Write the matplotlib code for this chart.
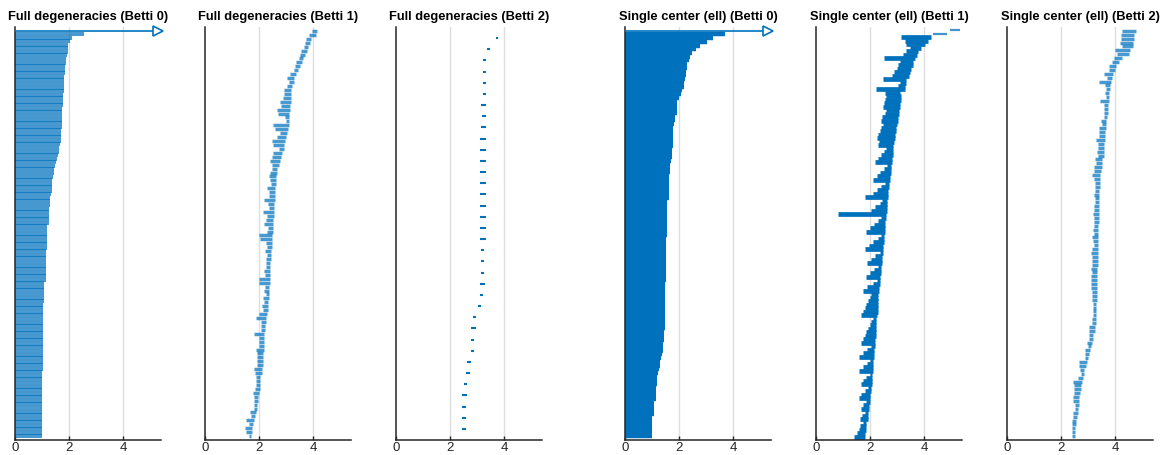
import numpy as np
import matplotlib
matplotlib.use("Agg")
import matplotlib.pyplot as plt

plt.rcParams['font.family'] = ['Liberation Sans', 'DejaVu Sans']

BLUE = '#0072BD'

titles = ['Full degeneracies (Betti 0)', 'Full degeneracies (Betti 1)',
          'Full degeneracies (Betti 2)', 'Single center (ell) (Betti 0)',
          'Single center (ell) (Betti 1)', 'Single center (ell) (Betti 2)']
xticks = [0, 2, 4]

# bars listed top to bottom, np.inf = never dies
p1_death = [np.inf, 2.55, 2.09, 2.02, 1.96, 1.95, 1.95, 1.91, 1.90, 1.89, 1.85, 1.84, 1.84,
            1.83, 1.83, 1.80, 1.80, 1.80, 1.79, 1.79, 1.79, 1.76, 1.75, 1.75, 1.75, 1.74,
            1.74, 1.74, 1.70, 1.70, 1.69, 1.69, 1.65, 1.64, 1.63, 1.59, 1.54, 1.53, 1.48,
            1.43, 1.43, 1.42, 1.38, 1.38, 1.37, 1.37, 1.32, 1.31, 1.31, 1.30, 1.26, 1.26,
            1.26, 1.25, 1.25, 1.20, 1.20, 1.20, 1.20, 1.19, 1.19, 1.19, 1.15, 1.15, 1.15,
            1.15, 1.15, 1.14, 1.14, 1.14, 1.14, 1.09, 1.09, 1.09, 1.09, 1.08, 1.08, 1.04,
            1.04, 1.04, 1.04, 1.04, 1.04, 1.04, 1.04, 1.04, 1.04, 1.03, 1.03, 1.03, 1.03,
            1.03, 1.03, 1.03, 1.03, 1.03, 0.99, 0.99, 0.99, 0.99, 0.99, 0.99, 0.99, 0.99,
            0.99, 0.99, 0.99, 0.99, 0.99, 0.99, 0.99, 0.99, 0.99, 0.99, 0.99]

p2_birth = [3.96, 3.84, 3.75, 3.71, 3.65, 3.55, 3.53, 3.47, 3.38, 3.34, 3.28, 3.16, 3.03,
            3.09, 3.03, 2.91, 2.92, 2.90, 2.78, 2.80, 2.68, 2.70, 2.97, 2.98, 2.53, 2.60,
            2.76, 2.66, 2.47, 2.53, 2.72, 2.53, 2.47, 2.41, 2.47, 2.47, 2.39, 2.35, 2.40,
            2.43, 2.30, 2.38, 2.35, 2.20, 2.32, 2.36, 2.15, 2.30, 2.25, 2.20, 2.33, 2.28,
            2.00, 2.05, 2.25, 2.30, 2.22, 2.31, 2.27, 2.26, 2.24, 2.20, 2.22, 1.98, 1.99,
            2.21, 2.20, 2.24, 2.14, 2.18, 2.12, 2.15, 1.98, 1.90, 2.07, 2.08, 2.06, 1.83,
            2.00, 2.01, 1.99, 1.87, 1.93, 1.94, 1.92, 1.93, 1.83, 1.85, 1.90, 1.88, 1.87,
            1.86, 1.78, 1.82, 1.80, 1.81, 1.80, 1.68, 1.70, 1.53, 1.62, 1.48, 1.50, 1.62]
p2_death = [4.14, 4.09, 3.93, 3.88, 3.80, 3.78, 3.71, 3.63, 3.57, 3.50, 3.43, 3.38, 3.30,
            3.28, 3.22, 3.19, 3.18, 3.18, 3.17, 3.16, 3.15, 3.12, 3.12, 3.10, 3.09, 3.06,
            3.03, 3.01, 2.97, 2.94, 2.91, 2.86, 2.81, 2.76, 2.72, 2.68, 2.66, 2.63, 2.62,
            2.61, 2.60, 2.60, 2.59, 2.58, 2.57, 2.56, 2.55, 2.54, 2.53, 2.52, 2.51, 2.50,
            2.49, 2.48, 2.47, 2.46, 2.45, 2.44, 2.43, 2.42, 2.42, 2.41, 2.40, 2.40, 2.39,
            2.38, 2.37, 2.36, 2.35, 2.34, 2.33, 2.32, 2.31, 2.24, 2.24, 2.23, 2.22, 2.20,
            2.20, 2.19, 2.18, 2.17, 2.16, 2.15, 2.14, 2.13, 2.11, 2.10, 2.05, 2.04, 2.03,
            2.02, 1.99, 1.96, 1.95, 1.94, 1.93, 1.87, 1.86, 1.83, 1.77, 1.75, 1.74, 1.70]

p3_birth = [3.69, 3.37, 3.21, 3.21, 3.21, 3.21, 3.15, 3.17, 3.16, 3.10, 3.10, 3.10, 3.10,
            3.10, 3.10, 3.10, 3.10, 3.10, 3.10, 3.16, 3.16, 3.16, 3.11, 3.11, 3.05, 2.84,
            2.77, 2.77, 2.77, 2.61, 2.58, 2.51, 2.44, 2.45, 2.45, 2.45]
p3_death = [3.79, 3.48, 3.33, 3.33, 3.33, 3.33, 3.33, 3.33, 3.33, 3.34, 3.34, 3.34, 3.34,
            3.34, 3.34, 3.34, 3.34, 3.34, 3.34, 3.27, 3.27, 3.27, 3.28, 3.22, 3.16, 2.96,
            2.96, 2.90, 2.90, 2.79, 2.74, 2.64, 2.64, 2.58, 2.58, 2.58]

p4_death = [np.inf, 3.69, 3.25, 3.04, 2.77, 2.64, 2.46, 2.40, 2.36, 2.30, 2.28, 2.27, 2.26,
            2.22, 2.20, 2.18, 2.12, 2.08, 2.00, 1.94, 1.93, 1.93, 1.92, 1.86, 1.84, 1.83,
            1.79, 1.78, 1.78, 1.78, 1.77, 1.77, 1.73, 1.72, 1.72, 1.71, 1.66, 1.65, 1.65,
            1.64, 1.62, 1.62, 1.62, 1.61, 1.61, 1.61, 1.57, 1.57, 1.57, 1.57, 1.56, 1.56,
            1.56, 1.56, 1.56, 1.56, 1.52, 1.52, 1.52, 1.52, 1.52, 1.52, 1.52, 1.52, 1.52,
            1.51, 1.51, 1.51, 1.47, 1.47, 1.47, 1.47, 1.47, 1.47, 1.47, 1.47, 1.47, 1.47,
            1.47, 1.47, 1.47, 1.46, 1.46, 1.46, 1.42, 1.41, 1.40, 1.36, 1.34, 1.30, 1.28,
            1.27, 1.22, 1.20, 1.20, 1.19, 1.15, 1.14, 1.14, 1.13, 1.08, 1.07, 1.07, 1.06,
            1.01, 1.01, 1.01, 1.01, 1.01, 1.01]

p5_birth = [4.95, 4.33, 3.16, 3.28, 3.34, 3.47, 3.34, 3.22, 2.50, 3.10, 3.05, 2.98, 2.90,
            2.80, 2.46, 3.10, 3.05, 2.23, 2.54, 2.60, 2.55, 2.50, 2.48, 2.60, 2.55, 2.45,
            2.42, 2.48, 2.40, 2.35, 2.30, 2.25, 2.33, 2.28, 2.60, 2.50, 2.40, 2.30, 2.20,
            2.62, 2.50, 2.38, 2.25, 2.10, 2.55, 2.40, 2.25, 2.10, 1.80, 2.45, 2.35, 2.20,
            2.05, 0.82, 2.42, 2.30, 2.15, 2.00, 1.85, 2.40, 2.28, 2.12, 1.95, 1.80, 2.35,
            2.20, 2.05, 1.90, 2.30, 2.15, 2.00, 1.85, 2.25, 2.10, 1.90, 1.73, 2.04, 1.98,
            1.92, 1.86, 1.80, 1.73, 1.67, 2.10, 2.04, 1.98, 1.92, 1.86, 1.80, 1.73, 1.67,
            2.04, 1.90, 1.75, 1.60, 2.00, 1.88, 1.75, 1.60, 1.98, 1.85, 1.72, 1.65, 1.92,
            1.80, 1.66, 1.60, 1.86, 1.75, 1.65, 1.80, 1.70, 1.64, 1.72, 1.62, 1.58, 1.50,
            1.42]
p5_death = [5.32, 4.83, 4.27, 4.15, 4.03, 3.90, 3.78, 3.72, 3.65, 3.60, 3.58, 3.52, 3.48,
            3.44, 3.34, 3.33, 3.31, 3.28, 3.12, 3.15, 3.14, 3.10, 3.09, 3.08, 3.06, 3.04,
            3.02, 2.98, 2.96, 2.95, 2.93, 2.91, 2.88, 2.86, 2.85, 2.84, 2.83, 2.82, 2.80,
            2.78, 2.77, 2.76, 2.75, 2.73, 2.70, 2.69, 2.68, 2.67, 2.66, 2.64, 2.63, 2.62,
            2.61, 2.60, 2.58, 2.57, 2.56, 2.55, 2.54, 2.52, 2.51, 2.50, 2.49, 2.48, 2.46,
            2.45, 2.44, 2.43, 2.41, 2.40, 2.39, 2.38, 2.36, 2.35, 2.34, 2.33, 2.29, 2.29,
            2.29, 2.28, 2.28, 2.28, 2.27, 2.23, 2.23, 2.22, 2.22, 2.21, 2.21, 2.20, 2.20,
            2.17, 2.16, 2.16, 2.15, 2.11, 2.10, 2.10, 2.09, 2.08, 2.07, 2.07, 2.06, 2.03,
            2.02, 2.01, 2.00, 1.98, 1.97, 1.96, 1.93, 1.92, 1.92, 1.86, 1.85, 1.84, 1.81,
            1.80]

p6_birth = [4.26, 4.20, 4.22, 4.18, 4.24, 4.01, 4.05, 3.95, 3.89, 3.76, 3.78, 3.60, 3.70,
            3.39, 3.64, 3.66, 3.63, 3.65, 3.45, 3.58, 3.60, 3.57, 3.58, 3.49, 3.50, 3.39,
            3.41, 3.40, 3.30, 3.35, 3.36, 3.34, 3.35, 3.27, 3.28, 3.20, 3.22, 3.14, 3.22,
            3.25, 3.24, 3.26, 3.20, 3.24, 3.25, 3.22, 3.23, 3.18, 3.21, 3.22, 3.20, 3.19,
            3.21, 3.15, 3.18, 3.20, 3.14, 3.12, 3.15, 3.16, 3.13, 3.12, 3.13, 3.10, 3.12,
            3.11, 3.12, 3.13, 3.15, 3.16, 3.18, 3.17, 3.19, 3.18, 3.14, 3.15, 3.02, 3.04,
            3.02, 3.03, 2.96, 2.98, 2.89, 2.89, 2.90, 2.65, 2.67, 2.71, 2.72, 2.61, 2.43,
            2.46, 2.47, 2.46, 2.43, 2.45, 2.52, 2.50, 2.43, 2.45, 2.41, 2.42, 2.41, 2.42,
            2.41]
p6_death = [4.76, 4.70, 4.68, 4.66, 4.65, 4.55, 4.52, 4.26, 4.14, 4.02, 4.00, 3.93, 3.89,
            3.83, 3.80, 3.80, 3.79, 3.78, 3.76, 3.74, 3.73, 3.72, 3.70, 3.68, 3.67, 3.65,
            3.64, 3.63, 3.62, 3.60, 3.59, 3.58, 3.57, 3.53, 3.52, 3.50, 3.48, 3.45, 3.44,
            3.43, 3.43, 3.42, 3.42, 3.41, 3.41, 3.40, 3.40, 3.40, 3.39, 3.39, 3.38, 3.38,
            3.38, 3.37, 3.37, 3.36, 3.36, 3.36, 3.35, 3.35, 3.35, 3.34, 3.34, 3.34, 3.33,
            3.33, 3.33, 3.32, 3.32, 3.32, 3.31, 3.31, 3.31, 3.30, 3.30, 3.30, 3.27, 3.26,
            3.18, 3.17, 3.14, 3.10, 3.06, 3.02, 3.01, 2.96, 2.94, 2.86, 2.84, 2.81, 2.77,
            2.73, 2.72, 2.71, 2.68, 2.67, 2.65, 2.63, 2.61, 2.60, 2.56, 2.54, 2.53, 2.53,
            2.52]

# (birth, death, line width, alpha, number of thin bars at the top)
panels = [
    (np.zeros(len(p1_death)), p1_death, 2.9, 0.72, 0),
    (p2_birth, p2_death, 2.5, 0.72, 0),
    (p3_birth, p3_death, 1.5, 1.0, 0),
    (np.zeros(len(p4_death)), p4_death, 3.2, 1.0, 0),
    (p5_birth, p5_death, 3.4, 1.0, 2),
    (p6_birth, p6_death, 2.5, 0.72, 0),
]

XMAX = 5.4
lefts_px = [15, 205, 396, 625, 816, 1007]
W, H = 1162, 455

fig = plt.figure(figsize=(W / 100, H / 100), dpi=100)

for k, (birth, death, lw, alpha, nthin) in enumerate(panels):
    ax = fig.add_axes([lefts_px[k] / W, 15 / H, 146 / W, 413 / H])
    birth = np.asarray(birth, dtype=float)
    death = np.asarray(death, dtype=float)
    n = len(death)
    y = np.arange(n, 0, -1)

    for gx in [2, 4]:
        ax.axvline(gx, color='#dedede', lw=1.0, zorder=0)

    fin = np.isfinite(death)
    # thin, lighter bars at the very top (panel 5)
    if nthin:
        ax.hlines(y[:nthin], birth[:nthin], death[:nthin], color=BLUE, lw=1.6,
                  alpha=0.75, zorder=2)
        fin[:nthin] = False
        rest = np.isfinite(death)
        rest[:nthin] = False
    else:
        rest = fin
    ax.hlines(y[rest], birth[rest], death[rest], color=BLUE, lw=lw, alpha=alpha, zorder=2)

    for yy, bb in zip(y[~np.isfinite(death)], birth[~np.isfinite(death)]):
        ax.plot([bb, XMAX - 0.12], [yy, yy], color=BLUE, lw=1.2, zorder=3)
        ax.plot([XMAX - 0.12], [yy], marker='>', ms=7, mfc='white', mec=BLUE,
                mew=1.2, zorder=4, clip_on=False)

    ax.set_xlim(0, XMAX)
    ax.set_ylim(0, n + 1)
    ax.set_xticks(xticks)
    ax.set_yticks([])
    ax.tick_params(axis='x', direction='in', length=3, width=1, labelsize=9.5,
                   colors='#262626', pad=1.5)
    for s in ['top', 'right']:
        ax.spines[s].set_visible(False)
    for s in ['left', 'bottom']:
        ax.spines[s].set_color('#262626')
        ax.spines[s].set_linewidth(1.1)
    ax.set_title(titles[k], fontsize=9.3, fontweight='bold', pad=5)

fig.savefig('out.png', dpi=100)
